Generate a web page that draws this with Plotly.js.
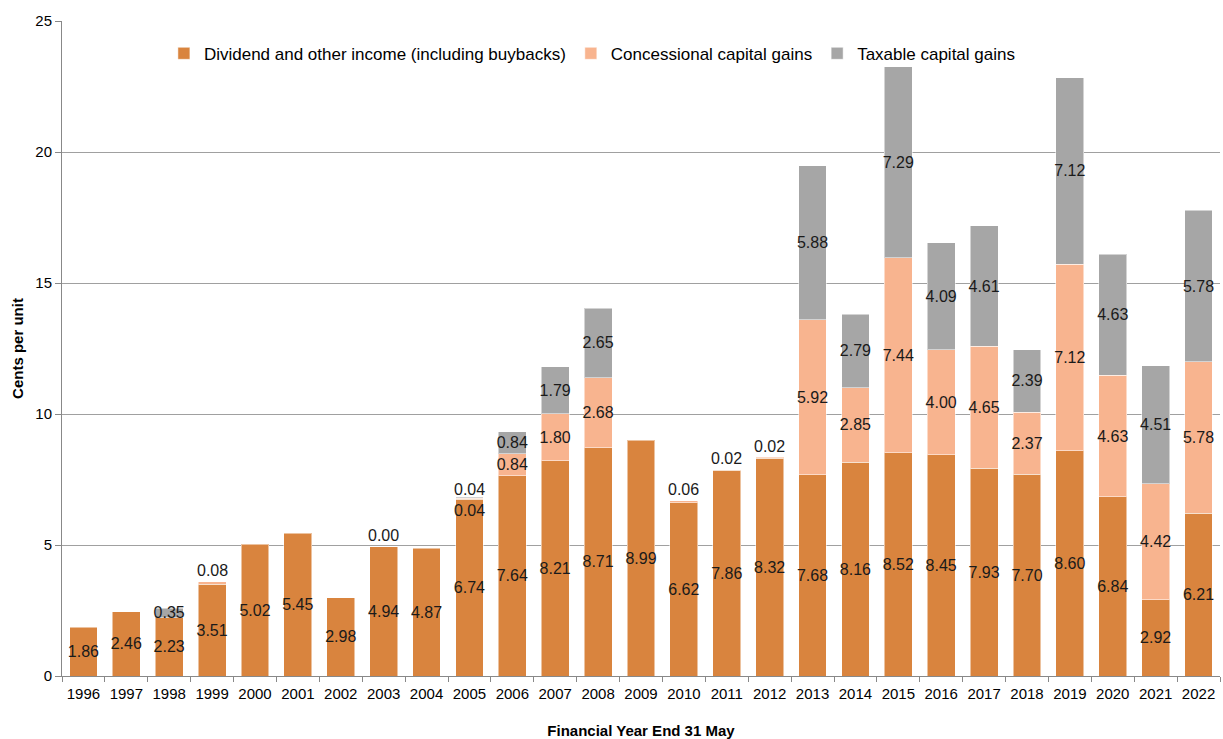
<!DOCTYPE html>
<html>
<head>
<meta charset="utf-8">
<script src="https://cdn.plot.ly/plotly-3.0.1.min.js"></script>
<style>html,body{margin:0;padding:0;background:#fff;}#chart{width:1223px;height:739px;}</style>
</head>
<body>
<div id="chart"></div>
<script>
const years = ['1996','1997','1998','1999','2000','2001','2002','2003','2004','2005','2006','2007','2008','2009','2010','2011','2012','2013','2014','2015','2016','2017','2018','2019','2020','2021','2022'];
const dividend = [1.86,2.46,2.23,3.51,5.02,5.45,2.98,4.94,4.87,6.74,7.64,8.21,8.71,8.99,6.62,7.86,8.32,7.68,8.16,8.52,8.45,7.93,7.70,8.60,6.84,2.92,6.21];
const concessional = [null,null,null,0.08,null,null,null,0.00,null,0.04,0.84,1.80,2.68,null,0.06,0.02,0.02,5.92,2.85,7.44,4.00,4.65,2.37,7.12,4.63,4.42,5.78];
const taxable = [null,null,0.35,null,null,null,null,null,null,0.04,0.84,1.79,2.65,null,null,null,null,5.88,2.79,7.29,4.09,4.61,2.39,7.12,4.63,4.51,5.78];
const seriesNames = ['Dividend and other income (including buybacks)','Concessional capital gains','Taxable capital gains'];
const colors = ['#D9843E','#F8B48F','#A6A6A6'];

const SMALL = 0.3;
function labels(arr){ return arr.map(v => (v !== null && v >= SMALL) ? v.toFixed(2) : ''); }

const font = 'Liberation Sans, Arial, sans-serif';
const LBL = 16;
function mk(vals, i){
  return {
    type:'bar', x:years, y:vals, name:seriesNames[i],
    marker:{color:colors[i], line:{color:'rgba(255,255,255,0.5)', width:1}},
    text:labels(vals), textposition:'inside', insidetextanchor:'middle', textangle:0,
    textfont:{family:font, size:LBL, color:'#1a1a1a'},
    hoverinfo:'x+y+name'
  };
}
const traces = [mk(dividend,0), mk(concessional,1), mk(taxable,2)];

// labels for very small segments, placed near the top of each stack (x = category index)
const annotations = [];
const afont = {family:font, size:LBL, color:'#1a1a1a'};
years.forEach((yr,k) => {
  const c = concessional[k], t = taxable[k];
  const top = dividend[k] + (c||0) + (t||0);
  const smallC = c !== null && c < SMALL;
  const smallT = t !== null && t < SMALL;
  if (smallC && smallT) {
    annotations.push({xref:'x', yref:'y', x:k, y:top, text:c.toFixed(2), showarrow:false, yshift:-13, font:afont});
    annotations.push({xref:'x', yref:'y', x:k, y:top, text:t.toFixed(2), showarrow:false, yshift:8, font:afont});
  } else if (smallC) {
    annotations.push({xref:'x', yref:'y', x:k, y:top, text:c.toFixed(2), showarrow:false, yshift:11, font:afont});
  } else if (smallT) {
    annotations.push({xref:'x', yref:'y', x:k, y:top, text:t.toFixed(2), showarrow:false, yshift:11, font:afont});
  }
});

const layout = {
  width:1223, height:739,
  margin:{l:62, r:3, t:21, b:63},
  paper_bgcolor:'#fff', plot_bgcolor:'#fff',
  barmode:'stack', bargap:0.35,
  font:{family:font, size:15, color:'#000'},
  showlegend:true,
  uniformtext:{mode:'show', minsize:LBL},
  legend:{orientation:'h', x:0.088, xanchor:'left', y:0.95, yanchor:'middle', traceorder:'normal',
          font:{family:font, size:17, color:'#000'}, bgcolor:'rgba(0,0,0,0)'},
  xaxis:{type:'category', range:[-0.5, years.length-0.5], tickson:'boundaries', ticks:'outside', ticklen:5, tickcolor:'#888',
         showline:true, linecolor:'#888', linewidth:1, showgrid:false, automargin:false, ticklabelstandoff:4, tickangle:0,
         tickfont:{family:font, size:15, color:'#000'},
         title:{text:'<b>Financial Year End 31 May</b>', font:{family:font, size:15, color:'#000'}, standoff:30}},
  yaxis:{range:[0,25], dtick:5, tick0:0, showgrid:true, gridcolor:'#A0A0A0', gridwidth:1, zeroline:false,
         showline:true, linecolor:'#888', linewidth:1, ticks:'outside', ticklen:6, tickcolor:'#888',
         tickfont:{family:font, size:15, color:'#000'}, automargin:false,
         title:{text:'<b>Cents per unit</b>', font:{family:font, size:15, color:'#000'}, standoff:8}},
  annotations:annotations
};
Plotly.newPlot('chart', traces, layout, {displayModeBar:false, staticPlot:true});
</script>
</body>
</html>
